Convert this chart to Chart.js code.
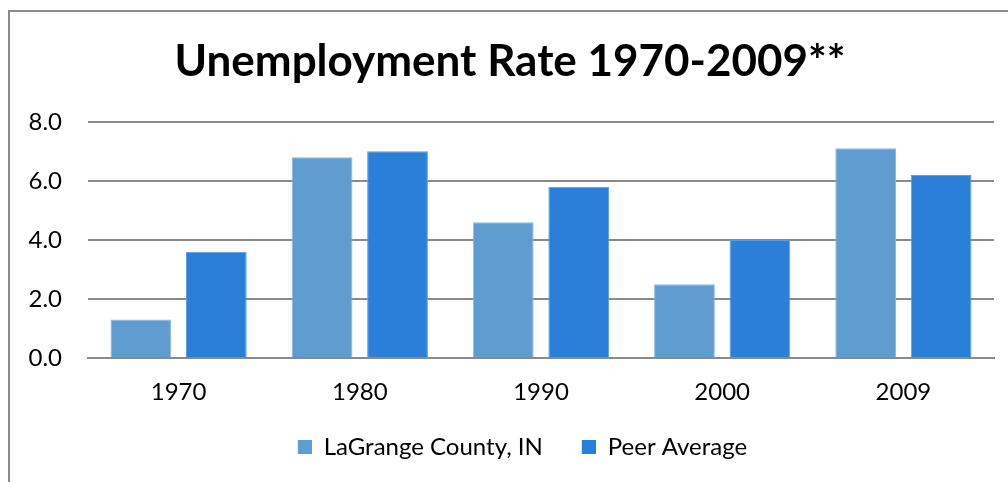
<!DOCTYPE html>
<html><head><meta charset="utf-8">
<script src="https://cdn.jsdelivr.net/npm/chart.js@4/dist/chart.umd.min.js"></script>
<style>
html,body{margin:0;padding:0;background:#fff;overflow:hidden;}
#frame{position:absolute;left:8px;top:10px;width:1100px;height:600px;border:2px solid #8a8a8a;box-sizing:border-box;}
#wrap{position:absolute;left:0;top:0;width:1008px;height:482px;}
</style></head>
<body>
<div id="frame"></div>
<div id="wrap"><canvas id="c" width="1008" height="482"></canvas></div>
<script>
const categories = ["1970", "1980", "1990", "2000", "2009"];
const lagrange = [1.3, 6.8, 4.6, 2.5, 7.1];
const peer = [3.6, 7.0, 5.8, 4.0, 6.2];
const seriesNames = ["LaGrange County, IN", "Peer Average"];
const titleText = "Unemployment Rate 1970-2009**";

const FONT = "Lato, 'Open Sans', sans-serif";
const SW_BLANK = 25, SW_SIZE = 14;
function swatch(color) {
  const cv = document.createElement('canvas');
  cv.width = SW_BLANK + SW_SIZE; cv.height = SW_SIZE;
  const g = cv.getContext('2d');
  g.fillStyle = color;
  g.fillRect(SW_BLANK, 0, SW_SIZE, SW_SIZE);
  return cv;
}

new Chart(document.getElementById('c'), {
  type: 'bar',
  data: {
    labels: categories,
    datasets: [
      {label: seriesNames[0], data: lagrange, backgroundColor: '#5f9dd1', borderColor:'#8bb8e0', borderWidth:1,
       categoryPercentage: 0.833, barPercentage: 0.805},
      {label: seriesNames[1], data: peer, backgroundColor: '#2a7fd8', borderColor:'#5d9de2', borderWidth:1,
       categoryPercentage: 0.833, barPercentage: 0.805}
    ]
  },
  options: {
    responsive: false,
    animation: false,
    devicePixelRatio: 1,
    layout: {padding: {left: 26, right: 14, top: 0, bottom: 13}},
    plugins: {
      title: {display: true, text: titleText, color: '#000',
        font: {family: FONT, size: 44, weight: 'bold'}, padding: {top: 35, bottom: 34}},
      legend: {position: 'bottom',
        labels: {color: '#000', font: {family: FONT, size: 24}, usePointStyle: true,
          pointStyleWidth: SW_BLANK + SW_SIZE, boxHeight: SW_SIZE, padding: 14,
          generateLabels: chart => Chart.defaults.plugins.legend.labels.generateLabels(chart).map(it => {
            it.pointStyle = swatch(chart.data.datasets[it.datasetIndex].backgroundColor);
            return it;
          })}},
      tooltip: {enabled: false}
    },
    scales: {
      x: {
        afterFit: s => { s.height = 63; },
        grid: {display: false, drawTicks: false},
        border: {display: true, color: '#8a8a8a', width: 2},
        ticks: {color: '#000', font: {family: FONT, size: 24}, padding: 20}
      },
      y: {
        min: 0, max: 8,
        afterFit: s => { s.width = 62; },
        grid: {color: '#8a8a8a', lineWidth: 2, drawTicks: false},
        border: {display: false},
        ticks: {stepSize: 2, color: '#000', font: {family: FONT, size: 24}, padding: 26,
          callback: v => Number(v).toFixed(1)}
      }
    }
  }
});
</script>
</body></html>
